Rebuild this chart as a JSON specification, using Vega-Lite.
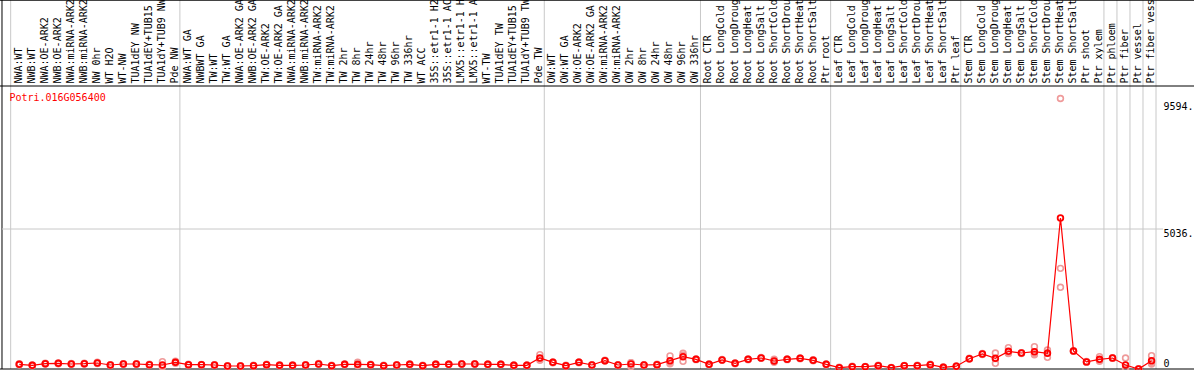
{
  "$schema": "https://vega.github.io/schema/vega-lite/v6.json",
  "width": 1160,
  "height": 283,
  "autosize": {"type": "none"},
  "padding": {"left": 2, "top": 86, "right": 32, "bottom": 1},
  "background": "white",
  "config": {
    "view": {"stroke": null},
    "font": "DejaVu Sans Mono",
    "axis": {"labelFont": "DejaVu Sans Mono", "labelFontSize": 10, "labelColor": "#000000"}
  },
  "data": {"values": [
    {"cond": "NWA:WT", "mean": 168, "r1": 190, "r2": 160, "r3": 154},
    {"cond": "NWB:WT", "mean": 132, "r1": 144, "r2": 132, "r3": 120},
    {"cond": "NWA:OE-ARK2", "mean": 192, "r1": 204, "r2": 192, "r3": 180},
    {"cond": "NWB:OE-ARK2", "mean": 204, "r1": 220, "r2": 200, "r3": 192},
    {"cond": "NWA:miRNA-ARK2", "mean": 180, "r1": 196, "r2": 176, "r3": 168},
    {"cond": "NWB:miRNA-ARK2", "mean": 192, "r1": 210, "r2": 186, "r3": 180},
    {"cond": "NW 0hr", "mean": 216, "r1": 240, "r2": 210, "r3": 198},
    {"cond": "WT H2O", "mean": 144, "r1": 156, "r2": 144, "r3": 132},
    {"cond": "WT-NW", "mean": 180, "r1": 192, "r2": 180, "r3": 168},
    {"cond": "TUA1dEY NW", "mean": 180, "r1": 190, "r2": 180, "r3": 170},
    {"cond": "TUA1dEY+TUB15 NW", "mean": 156, "r1": 168, "r2": 156, "r3": 144},
    {"cond": "TUA1dY+TUB9 NW", "mean": 144, "r1": 264, "r2": 100, "r3": 68},
    {"cond": "Pde NW", "mean": 240, "r1": 280, "r2": 230, "r3": 210},
    {"cond": "NWA:WT GA", "mean": 156, "r1": 168, "r2": 156, "r3": 144},
    {"cond": "NWBWT GA", "mean": 156, "r1": 166, "r2": 156, "r3": 146},
    {"cond": "TW:WT", "mean": 144, "r1": 156, "r2": 144, "r3": 132},
    {"cond": "TW:WT GA", "mean": 108, "r1": 120, "r2": 108, "r3": 96},
    {"cond": "NWA:OE-ARK2 GA", "mean": 108, "r1": 118, "r2": 108, "r3": 98},
    {"cond": "NWB:OE-ARK2 GA", "mean": 120, "r1": 132, "r2": 120, "r3": 108},
    {"cond": "TW:OE-ARK2", "mean": 156, "r1": 170, "r2": 150, "r3": 148},
    {"cond": "TW:OE-ARK2 GA", "mean": 132, "r1": 144, "r2": 132, "r3": 120},
    {"cond": "NWA:miRNA-ARK2 GA", "mean": 132, "r1": 142, "r2": 132, "r3": 122},
    {"cond": "NWB:miRNA-ARK2 GA", "mean": 144, "r1": 156, "r2": 144, "r3": 132},
    {"cond": "TW:miRNA-ARK2", "mean": 180, "r1": 196, "r2": 176, "r3": 168},
    {"cond": "TW:miRNA-ARK2 GA", "mean": 120, "r1": 132, "r2": 120, "r3": 108},
    {"cond": "TW 2hr", "mean": 168, "r1": 180, "r2": 168, "r3": 156},
    {"cond": "TW 8hr", "mean": 168, "r1": 240, "r2": 140, "r3": 124},
    {"cond": "TW 24hr", "mean": 156, "r1": 168, "r2": 156, "r3": 144},
    {"cond": "TW 48hr", "mean": 120, "r1": 132, "r2": 120, "r3": 108},
    {"cond": "TW 96hr", "mean": 144, "r1": 156, "r2": 144, "r3": 132},
    {"cond": "TW 336hr", "mean": 168, "r1": 180, "r2": 168, "r3": 156},
    {"cond": "WT ACC", "mean": 120, "r1": 132, "r2": 120, "r3": 108},
    {"cond": "35S::etr1-1 H2O", "mean": 168, "r1": 180, "r2": 168, "r3": 156},
    {"cond": "35S::etr1-1 ACC", "mean": 168, "r1": 178, "r2": 168, "r3": 158},
    {"cond": "LMX5::etr1-1 H2O", "mean": 180, "r1": 192, "r2": 180, "r3": 168},
    {"cond": "LMX5::etr1-1 ACC", "mean": 180, "r1": 190, "r2": 180, "r3": 170},
    {"cond": "WT-TW", "mean": 168, "r1": 180, "r2": 168, "r3": 156},
    {"cond": "TUA1dEY TW", "mean": 168, "r1": 176, "r2": 168, "r3": 160},
    {"cond": "TUA1dEY+TUB15 TW", "mean": 132, "r1": 144, "r2": 132, "r3": 120},
    {"cond": "TUA1dY+TUB9 TW", "mean": 132, "r1": 142, "r2": 132, "r3": 122},
    {"cond": "Pde TW", "mean": 396, "r1": 516, "r2": 360, "r3": 312},
    {"cond": "OW:WT", "mean": 240, "r1": 256, "r2": 236, "r3": 228},
    {"cond": "OW:WT GA", "mean": 120, "r1": 132, "r2": 120, "r3": 108},
    {"cond": "OW:OE-ARK2", "mean": 240, "r1": 252, "r2": 240, "r3": 228},
    {"cond": "OW:OE-ARK2 GA", "mean": 144, "r1": 156, "r2": 144, "r3": 132},
    {"cond": "OW:miRNA-ARK2", "mean": 300, "r1": 320, "r2": 296, "r3": 284},
    {"cond": "OW:miRNA-ARK2 GA", "mean": 144, "r1": 156, "r2": 144, "r3": 132},
    {"cond": "OW 2hr", "mean": 180, "r1": 228, "r2": 228, "r3": 84},
    {"cond": "OW 8hr", "mean": 144, "r1": 156, "r2": 144, "r3": 132},
    {"cond": "OW 24hr", "mean": 156, "r1": 168, "r2": 156, "r3": 144},
    {"cond": "OW 48hr", "mean": 300, "r1": 468, "r2": 240, "r3": 192},
    {"cond": "OW 96hr", "mean": 444, "r1": 492, "r2": 276, "r3": 564},
    {"cond": "OW 336hr", "mean": 348, "r1": 360, "r2": 348, "r3": 336},
    {"cond": "Root CTR", "mean": 168, "r1": 180, "r2": 168, "r3": 156},
    {"cond": "Root LongCold", "mean": 324, "r1": 340, "r2": 320, "r3": 312},
    {"cond": "Root LongDrought", "mean": 204, "r1": 216, "r2": 204, "r3": 192},
    {"cond": "Root LongHeat", "mean": 348, "r1": 364, "r2": 344, "r3": 336},
    {"cond": "Root LongSalt", "mean": 396, "r1": 412, "r2": 392, "r3": 384},
    {"cond": "Root ShortCold", "mean": 288, "r1": 348, "r2": 270, "r3": 246},
    {"cond": "Root ShortDrought", "mean": 348, "r1": 360, "r2": 348, "r3": 336},
    {"cond": "Root ShortHeat", "mean": 384, "r1": 400, "r2": 380, "r3": 372},
    {"cond": "Root ShortSalt", "mean": 312, "r1": 330, "r2": 312, "r3": 294},
    {"cond": "Ptr root", "mean": 168, "r1": 180, "r2": 168, "r3": 156},
    {"cond": "Leaf CTR", "mean": 48, "r1": 60, "r2": 48, "r3": 36},
    {"cond": "Leaf LongCold", "mean": 84, "r1": 96, "r2": 84, "r3": 72},
    {"cond": "Leaf LongDrought", "mean": 84, "r1": 94, "r2": 84, "r3": 74},
    {"cond": "Leaf LongHeat", "mean": 120, "r1": 132, "r2": 120, "r3": 108},
    {"cond": "Leaf LongSalt", "mean": 48, "r1": 58, "r2": 48, "r3": 38},
    {"cond": "Leaf ShortCold", "mean": 120, "r1": 130, "r2": 120, "r3": 110},
    {"cond": "Leaf ShortDrought", "mean": 120, "r1": 132, "r2": 120, "r3": 108},
    {"cond": "Leaf ShortHeat", "mean": 156, "r1": 168, "r2": 156, "r3": 144},
    {"cond": "Leaf ShortSalt", "mean": 60, "r1": 72, "r2": 60, "r3": 48},
    {"cond": "Ptr leaf", "mean": 100, "r1": 112, "r2": 100, "r3": 88},
    {"cond": "Stem CTR", "mean": 370, "r1": 386, "r2": 366, "r3": 358},
    {"cond": "Stem LongCold", "mean": 540, "r1": 560, "r2": 536, "r3": 524},
    {"cond": "Stem LongDrought", "mean": 384, "r1": 575, "r2": 204, "r3": 373},
    {"cond": "Stem LongHeat", "mean": 635, "r1": 767, "r2": 580, "r3": 558},
    {"cond": "Stem LongSalt", "mean": 575, "r1": 590, "r2": 575, "r3": 560},
    {"cond": "Stem ShortCold", "mean": 624, "r1": 803, "r2": 560, "r3": 509},
    {"cond": "Stem ShortDrought", "mean": 564, "r1": 683, "r2": 420, "r3": 589},
    {"cond": "Stem ShortHeat", "mean": 5430, "r1": 9730, "r2": 3620, "r3": 2940},
    {"cond": "Stem ShortSalt", "mean": 645, "r1": 660, "r2": 640, "r3": 635},
    {"cond": "Ptr shoot", "mean": 256, "r1": 270, "r2": 252, "r3": 246},
    {"cond": "Ptr xylem", "mean": 348, "r1": 444, "r2": 320, "r3": 280},
    {"cond": "Ptr phloem", "mean": 396, "r1": 410, "r2": 396, "r3": 382},
    {"cond": "Ptr fiber", "mean": 144, "r1": 396, "r2": 36, "r3": 0},
    {"cond": "Ptr vessel", "mean": 0, "r1": 0, "r2": 0, "r3": 0},
    {"cond": "Ptr fiber vessel", "mean": 300, "r1": 480, "r2": 240, "r3": 180}
  ]},
  "layer": [
    {
      "transform": [{"filter": {"field": "cond", "oneOf": ["NWA:WT", "NWA:WT GA", "OW:WT", "Root CTR", "Leaf CTR", "Stem CTR", "Ptr phloem", "Ptr fiber", "Ptr vessel", "Ptr fiber vessel"]}}],
      "mark": {"type": "rule", "color": "#c8c8c8", "strokeWidth": 1, "clip": false},
      "encoding": {
        "x": {"field": "cond", "type": "nominal", "bandPosition": 0},
        "y": {"datum": 0},
        "y2": {"datum": 13300}
      }
    },
    {
      "transform": [{"filter": {"field": "cond", "equal": "Ptr fiber vessel"}}],
      "mark": {"type": "rule", "color": "#c8c8c8", "strokeWidth": 1, "clip": false},
      "encoding": {
        "x": {"field": "cond", "type": "nominal", "bandPosition": 1},
        "y": {"datum": 0},
        "y2": {"datum": 13300}
      }
    },
    {
      "data": {"values": [{"border": "left"}]},
      "mark": {"type": "rule", "color": "#000000", "strokeWidth": 1, "clip": false},
      "encoding": {
        "x": {"datum": "NWA:WT", "bandPosition": -0.667},
        "y": {"datum": 0},
        "y2": {"datum": 13300}
      }
    },
    {
      "data": {"values": [{"border": "top"}]},
      "mark": {"type": "rule", "color": "#000000", "strokeWidth": 1, "clip": false},
      "encoding": {
        "x": {"datum": "NWA:WT", "bandPosition": -0.82},
        "x2": {"datum": "Ptr fiber vessel", "bandPosition": 3.92},
        "y": {"datum": 13265}
      }
    },
    {
      "data": {"values": [{"border": "labels"}]},
      "mark": {"type": "rule", "color": "#000000", "strokeWidth": 1, "clip": false},
      "encoding": {
        "x": {"datum": "NWA:WT", "bandPosition": -0.82},
        "x2": {"datum": "Ptr fiber vessel", "bandPosition": 3.92},
        "y": {"datum": 10180}
      }
    },
    {
      "data": {"values": [{"border": "bottom"}]},
      "mark": {"type": "rule", "color": "#000000", "strokeWidth": 1, "clip": false},
      "encoding": {
        "x": {"datum": "NWA:WT", "bandPosition": -0.82},
        "x2": {"datum": "Ptr fiber vessel", "bandPosition": 3.92},
        "y": {"datum": 0}
      }
    },
    {
      "data": {"values": [{"gridValue": 5036}]},
      "mark": {"type": "rule", "color": "#c8c8c8", "strokeWidth": 1},
      "encoding": {
        "x": {"datum": "NWA:WT", "bandPosition": -0.667},
        "x2": {"datum": "Ptr fiber vessel", "bandPosition": 1.54},
        "y": {"field": "gridValue", "type": "quantitative"}
      }
    },
    {
      "data": {"values": [{"gene": "Potri.016G056400"}]},
      "mark": {"type": "text", "color": "#ff0000", "font": "DejaVu Sans Mono", "fontSize": 10, "align": "left", "baseline": "alphabetic"},
      "encoding": {
        "x": {"datum": "NWA:WT", "bandPosition": -0.1},
        "y": {"datum": 9640},
        "text": {"field": "gene"}
      }
    },
    {
      "transform": [{"fold": ["r1", "r2", "r3"], "as": ["rep", "value"]}],
      "mark": {"type": "point", "filled": false, "color": "#ef9a9a", "strokeWidth": 1.6, "size": 34, "opacity": 1, "clip": false},
      "encoding": {
        "x": {"field": "cond", "type": "nominal", "bandPosition": 0.66},
        "y": {"field": "value", "type": "quantitative"}
      }
    },
    {
      "mark": {"type": "line", "color": "#ff0000", "strokeWidth": 1.2, "clip": false},
      "encoding": {
        "x": {"field": "cond", "type": "nominal", "bandPosition": 0.66},
        "y": {"field": "mean", "type": "quantitative"}
      }
    },
    {
      "mark": {"type": "point", "filled": false, "color": "#ff0000", "strokeWidth": 1.8, "size": 32, "opacity": 1, "clip": false},
      "encoding": {
        "x": {
          "field": "cond",
          "type": "nominal",
          "bandPosition": 0.66,
          "scale": {
            "type": "band",
            "paddingInner": 0,
            "paddingOuter": 0,
            "range": [8.68, 1154],
            "domain": ["NWA:WT", "NWB:WT", "NWA:OE-ARK2", "NWB:OE-ARK2", "NWA:miRNA-ARK2", "NWB:miRNA-ARK2", "NW 0hr", "WT H2O", "WT-NW", "TUA1dEY NW", "TUA1dEY+TUB15 NW", "TUA1dY+TUB9 NW", "Pde NW", "NWA:WT GA", "NWBWT GA", "TW:WT", "TW:WT GA", "NWA:OE-ARK2 GA", "NWB:OE-ARK2 GA", "TW:OE-ARK2", "TW:OE-ARK2 GA", "NWA:miRNA-ARK2 GA", "NWB:miRNA-ARK2 GA", "TW:miRNA-ARK2", "TW:miRNA-ARK2 GA", "TW 2hr", "TW 8hr", "TW 24hr", "TW 48hr", "TW 96hr", "TW 336hr", "WT ACC", "35S::etr1-1 H2O", "35S::etr1-1 ACC", "LMX5::etr1-1 H2O", "LMX5::etr1-1 ACC", "WT-TW", "TUA1dEY TW", "TUA1dEY+TUB15 TW", "TUA1dY+TUB9 TW", "Pde TW", "OW:WT", "OW:WT GA", "OW:OE-ARK2", "OW:OE-ARK2 GA", "OW:miRNA-ARK2", "OW:miRNA-ARK2 GA", "OW 2hr", "OW 8hr", "OW 24hr", "OW 48hr", "OW 96hr", "OW 336hr", "Root CTR", "Root LongCold", "Root LongDrought", "Root LongHeat", "Root LongSalt", "Root ShortCold", "Root ShortDrought", "Root ShortHeat", "Root ShortSalt", "Ptr root", "Leaf CTR", "Leaf LongCold", "Leaf LongDrought", "Leaf LongHeat", "Leaf LongSalt", "Leaf ShortCold", "Leaf ShortDrought", "Leaf ShortHeat", "Leaf ShortSalt", "Ptr leaf", "Stem CTR", "Stem LongCold", "Stem LongDrought", "Stem LongHeat", "Stem LongSalt", "Stem ShortCold", "Stem ShortDrought", "Stem ShortHeat", "Stem ShortSalt", "Ptr shoot", "Ptr xylem", "Ptr phloem", "Ptr fiber", "Ptr vessel", "Ptr fiber vessel"]
          },
          "axis": {
            "orient": "top",
            "title": null,
            "labelAngle": -90,
            "labelAlign": "left",
            "labelBaseline": "middle",
            "labelPadding": 3,
            "labelOffset": 1.5,
            "labelOverlap": false,
            "labelBound": false,
            "labelLimit": 300,
            "ticks": false,
            "tickSize": 0,
            "grid": false,
            "domain": false,
            "bandPosition": 0.66,
            "labelFont": "DejaVu Sans Mono",
            "labelFontSize": 10,
            "labelColor": "#000000"
          }
        },
        "y": {
          "field": "mean",
          "type": "quantitative",
          "scale": {"domain": [0, 10180], "nice": false, "zero": false},
          "axis": {
            "orient": "right",
            "title": null,
            "values": [0, 5036, 9594],
            "labelExpr": "datum.value === 0 ? '0' : datum.value + '.'",
            "labelAlign": "left",
            "labelBaseline": {"condition": {"test": "datum.value === 0", "value": "bottom"}, "value": "middle"},
            "labelOffset": {"condition": {"test": "datum.value === 0", "value": -1}, "value": 4},
            "labelPadding": 1,
            "labelFlush": false,
            "labelOverlap": false,
            "ticks": false,
            "tickSize": 0,
            "domain": false,
            "grid": false,
            "labelFont": "DejaVu Sans Mono",
            "labelFontSize": 10,
            "labelColor": "#000000"
          }
        }
      }
    }
  ]
}
